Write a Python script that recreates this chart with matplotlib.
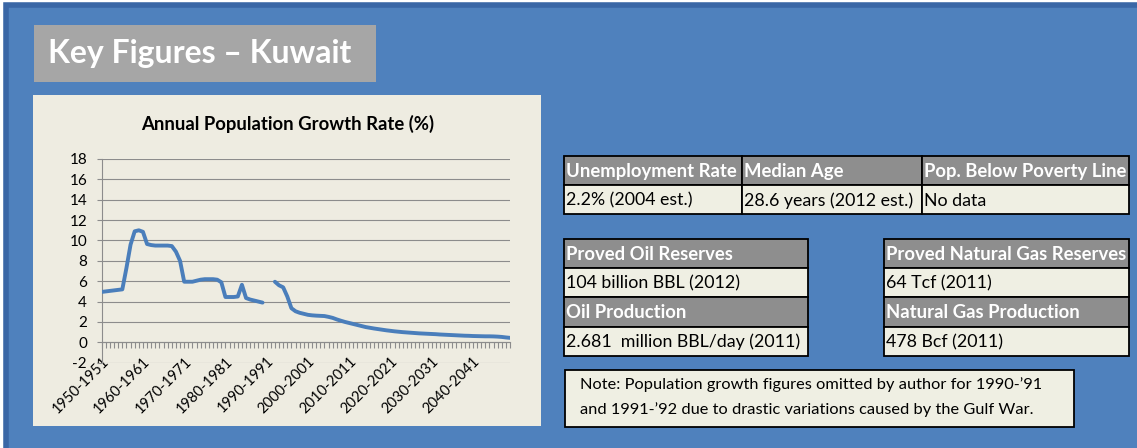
import numpy as np
import matplotlib
matplotlib.use("Agg")
import matplotlib.pyplot as plt
from matplotlib.patches import Rectangle

plt.rcParams['font.family'] = ['Lato', 'DejaVu Sans']

# ---- data ----
first_years = list(range(1950, 2050))
categories = ["%d-%d" % (y, y + 1) for y in first_years]

# annual population growth rate (%), gap for 1990-91 and 1991-92
growth = [
  4.95, 5.0, 5.05, 5.1, 5.15, 5.2, 7.3, 9.6, 10.9, 11.0,
  10.85, 9.65, 9.55, 9.5, 9.5, 9.5, 9.5, 9.45, 8.9, 8.0,
  5.95, 5.95, 5.95, 6.05, 6.15, 6.2, 6.2, 6.2, 6.15, 5.9,
  4.45, 4.45, 4.45, 4.5, 5.65, 4.35, 4.2, 4.1, 4.0, 3.9,
  None, None, 5.95, 5.6, 5.4, 4.5, 3.35, 3.05, 2.9, 2.8,
  2.7, 2.65, 2.62, 2.6, 2.58, 2.5, 2.4, 2.25, 2.12, 2.0,
  1.9, 1.8, 1.7, 1.6, 1.5, 1.43, 1.36, 1.3, 1.24, 1.18,
  1.13, 1.08, 1.04, 1.0, 0.97, 0.94, 0.91, 0.88, 0.86, 0.84,
  0.82, 0.8, 0.77, 0.75, 0.73, 0.71, 0.69, 0.67, 0.65, 0.64,
  0.62, 0.61, 0.6, 0.59, 0.59, 0.58, 0.56, 0.53, 0.48, 0.44,
]

y_ticks = list(range(-2, 19, 2))

top_heads = ["Unemployment Rate", "Median Age", "Pop. Below Poverty Line"]
top_vals = ["2.2% (2004 est.)", "28.6 years (2012 est.)", "No data"]
oil_heads = ["Proved Oil Reserves", "Oil Production"]
oil_vals = ["104 billion BBL (2012)", "2.681  million BBL/day (2011)"]
gas_heads = ["Proved Natural Gas Reserves", "Natural Gas Production"]
gas_vals = ["64 Tcf (2011)", "478 Bcf (2011)"]

note_lines = ["Note: Population growth figures omitted by author for 1990-\u201991",
              "and 1991-\u201992 due to drastic variations caused by the Gulf War."]

# ---- layout in pixels ----
W, H = 1137, 448
fig = plt.figure(figsize=(W / 100, H / 100), dpi=100)
fig.patch.set_facecolor("white")

def rect(x0, y0, x1, y1, **kw):
  r = Rectangle((x0 / W, 1 - y1 / H), (x1 - x0) / W, (y1 - y0) / H,
                transform=fig.transFigure, **kw)
  fig.add_artist(r)
  return r

def text(x, y, s, **kw):
  return fig.text(x / W, 1 - y / H, s, **kw)

# slide background
rect(6, 5, W + 5, H + 5, facecolor="#4F81BD", edgecolor="#3A67A6", linewidth=4)

# title box
rect(34, 25, 376, 82, facecolor="#A6A6A6", edgecolor="none")
text(48, 54, "Key Figures \u2013 Kuwait", color="white", fontsize=23,
     fontweight="bold", va="center", ha="left")

# chart panel
rect(33, 95, 541, 426, facecolor="#EEECE1", edgecolor="none")
text(288, 124, "Annual Population Growth Rate (%)", fontsize=13.3,
     fontweight="bold", ha="center", va="center", color="black")

ax = fig.add_axes([101.7 / W, 1 - 362.7 / H, (510 - 101.7) / W, (362.7 - 159) / H])
ax.set_zorder(5)
ax.set_facecolor("none")
x = np.arange(len(categories))
y = np.array([np.nan if v is None else v for v in growth], dtype=float)
ax.plot(x, y, color="#4A7EBB", linewidth=2.8, solid_capstyle="round", zorder=3)

ax.set_xlim(0, len(categories) - 1)
ax.set_ylim(-2, 18)
ax.set_yticks(y_ticks)
ax.set_yticklabels([str(t) for t in y_ticks])
ax.yaxis.grid(True, color="#8C8C8C", linewidth=0.8)
ax.set_axisbelow(True)

ax.set_xticks(x[::10])
ax.set_xticklabels(categories[::10])
ax.set_xticks(x, minor=True)

for s in ["top", "right"]:
  ax.spines[s].set_visible(False)
ax.spines["bottom"].set_position(("data", 0))
ax.spines["bottom"].set_color("#8C8C8C")
ax.spines["left"].set_color("#8C8C8C")

ax.tick_params(axis="x", which="both", direction="out", length=4.5,
               color="#8C8C8C", width=0.8)
ax.tick_params(axis="x", which="major", pad=4, labelsize=10.5)
ax.tick_params(axis="y", direction="out", length=3.5, color="#8C8C8C",
               pad=7, labelsize=11)
for lab in ax.get_xticklabels():
  lab.set_rotation(45)
  lab.set_ha("right")
  lab.set_va("top")
  lab.set_rotation_mode("anchor")

# tables
head_col = "#8E8E8E"
cell_col = "#EFEFE3"
def cell(x0, y0, x1, y1, s, head):
  rect(x0, y0, x1, y1, facecolor=head_col if head else cell_col,
       edgecolor="black", linewidth=1.3)
  text(x0 + 2, (y0 + y1) / 2 + 1, s, fontsize=13.3 if head else 12.8,
       fontweight="bold" if head else "normal",
       color="white" if head else "black", ha="left", va="center")

col_edges = [564, 742, 922, 1129]
for i in range(3):
  cell(col_edges[i], 155.5, col_edges[i + 1], 185, top_heads[i], True)
  cell(col_edges[i], 185, col_edges[i + 1], 214.5, top_vals[i], False)

row_edges = [238.5, 267.5, 297, 326.5, 355.5]
for i in range(2):
  cell(564, row_edges[2 * i], 808, row_edges[2 * i + 1], oil_heads[i], True)
  cell(564, row_edges[2 * i + 1], 808, row_edges[2 * i + 2], oil_vals[i], False)
  cell(884, row_edges[2 * i], 1129, row_edges[2 * i + 1], gas_heads[i], True)
  cell(884, row_edges[2 * i + 1], 1129, row_edges[2 * i + 2], gas_vals[i], False)

# note box
rect(565, 370, 1074, 427, facecolor=cell_col, edgecolor="black", linewidth=1.3)
text(580, 385, note_lines[0], fontsize=11.8, ha="left", va="center")
text(580, 410, note_lines[1], fontsize=11.8, ha="left", va="center")

fig.savefig("out.png", dpi=100)
